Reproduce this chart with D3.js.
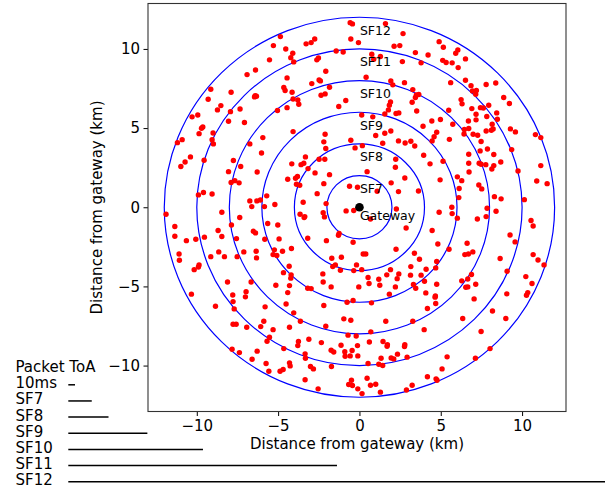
<!DOCTYPE html>
<html>
<head>
<meta charset="utf-8">
<script src="https://cdn.jsdelivr.net/npm/d3@7"></script>
<style>
  html, body { margin: 0; padding: 0; background: #fff; }
  svg { display: block; font-family: "DejaVu Sans", sans-serif; }
</style>
</head>
<body>
<svg id="chart" width="615" height="489"></svg>
<script>
// ---------------- data ----------------
const ringRadii = [2, 4, 6, 8, 10, 12];                 // km
const ringLabels = ["SF7", "SF8", "SF9", "SF10", "SF11", "SF12"];
const xTicks = [-10, -5, 0, 5, 10];
const yTicks = [-10, -5, 0, 5, 10];
const gateway = [0, 0];
const legendLabels = ["10ms", "SF7", "SF8", "SF9", "SF10", "SF11", "SF12"];
const legendToA = [10, 35, 60, 118, 201, 401, 801];     // ms

// end-device positions (km)
const nodes = [
[-0.57,11.66],[-0.43,11.58],[-0.53,10.63],[-0.06,10.4],[-4.86,10.78],[-3.28,10.32],[-2.97,10.4],[-2.75,10.63],[-5.29,10.21],[-4.53,10.0],[-4.1,9.73],[-4.22,9.45],[-4.04,9.18],[-1.43,9.87],[-1.0,9.81],[-2.52,9.43],[-2.62,9.31],[-5.53,9.31],[-6.39,8.67],[-6.91,8.38],[-2.07,8.59],[-2.4,7.98],[-2.48,8.04],[-2.93,7.81],[-4.45,8.17],[-1.84,7.58],[-4.65,7.56],[-4.57,7.37],[-4.14,7.26],[-9.14,7.45],[-7.89,7.26],[-6.41,7.05],[-6.45,6.97],[-6.33,7.01],[-4.08,6.84],[-3.79,6.78],[-3.73,6.51],[-2.11,7.16],[-2.36,7.07],[-9.3,6.82],[-8.52,6.42],[-8.73,6.15],[-7.34,6.21],[-7.93,6.04],[-5.04,6.11],[-4.45,6.29],[-0.84,6.74],[-1.27,6.36],[-9.94,5.83],[-10.29,5.71],[-8.05,5.43],[-7.07,5.35],[-9.63,5.07],[-9.71,4.99],[-9.86,4.65],[-9.0,4.69],[-4.08,4.78],[-9.06,4.27],[-8.98,4.0],[-11.19,4.08],[-10.9,4.27],[-5.94,4.4],[-6.74,4.0],[-2.11,4.61],[-2.19,4.13],[-2.07,3.71],[-0.53,4.23],[-6.02,3.43],[-10.39,3.18],[-10.72,2.86],[-10.98,2.57],[-9.55,2.97],[-7.75,2.95],[-7.3,2.57],[-8.05,2.25],[-6.29,2.23],[-4.16,2.74],[-3.59,2.69],[-3.42,2.78],[-3.32,3.18],[-2.48,3.03],[-2.13,3.03],[-3.16,2.44],[-2.73,2.17],[-1.84,2.06],[-4.41,1.77],[-3.93,1.83],[-3.81,1.94],[-3.87,1.45],[-3.67,1.39],[-7.66,1.68],[-7.89,1.56],[-7.4,1.54],[-2.19,1.49],[-2.6,0.86],[-0.61,1.33],[-0.12,1.26],[-9.59,0.93],[-9.9,0.78],[-9.06,0.84],[-5.7,0.72],[-6.09,0.46],[-6.31,0.4],[-6.74,0.4],[-6.62,0.04],[-5.84,0.04],[-5.2,0.17],[-3.46,0.32],[-2.05,0.23],
[1.6,11.6],[2.68,10.97],[2.13,10.17],[2.48,10.21],[4.9,10.46],[5.16,10.11],[3.44,9.77],[4.22,9.62],[6.05,9.94],[5.92,9.73],[6.52,9.37],[5.12,9.28],[5.33,9.14],[5.7,9.12],[6.07,8.82],[3.79,9.12],[2.64,9.2],[0.76,9.66],[1.29,9.52],[0.88,9.35],[0.41,8.21],[1.93,7.98],[2.05,7.73],[2.77,7.87],[3.28,7.43],[3.65,7.12],[3.5,7.09],[3.44,6.93],[3.24,6.63],[1.91,6.65],[1.84,6.44],[1.78,6.15],[1.56,5.89],[2.25,5.92],[2.42,5.96],[3.52,6.08],[0.82,5.71],[0.14,5.83],[5.61,7.87],[6.52,8.02],[6.86,7.68],[7.19,7.37],[6.95,7.35],[7.15,7.14],[7.79,7.75],[8.38,7.85],[8.87,6.93],[9.22,6.55],[6.25,6.8],[6.31,6.53],[5.49,6.13],[6.91,6.23],[7.17,5.87],[7.44,6.29],[7.62,6.27],[7.95,6.44],[7.83,5.73],[8.44,5.96],[8.48,5.56],[6.7,5.45],[7.17,5.52],[8.16,5.24],[5.74,5.24],[6.45,4.91],[6.43,4.63],[6.72,4.97],[6.99,4.61],[7.27,4.55],[7.79,4.82],[8.11,4.86],[8.22,4.95],[9.28,4.95],[9.59,4.76],[10.82,4.59],[11.15,4.4],[4.45,5.45],[4.98,5.54],[3.91,5.12],[4.75,4.74],[4.59,4.46],[4.47,4.19],[5.53,4.29],[1.93,4.82],[1.56,4.67],[1.0,4.53],[2.4,4.19],[2.81,4.06],[3.16,4.17],[3.4,3.87],[1.43,4.04],[0.18,3.89],[-0.27,3.75],[7.48,4.15],[7.87,3.68],[8.26,3.33],[7.42,3.56],[9.36,3.64],[9.75,2.29],[11.15,2.63],[10.9,1.66],[11.54,1.49],[10.14,0.48],[8.3,0.67],[8.71,0.53],[7.85,-0.06],[6.72,3.35],[6.72,2.78],[6.74,2.23],[7.36,2.78],[7.48,2.72],[7.77,2.69],[8.14,2.42],[8.26,2.63],[8.69,2.86],[7.34,1.41],[7.52,1.16],[6.02,1.92],[6.29,1.68],[6.13,1.18],[6.11,0.61],[4.96,1.73],[5.14,2.91],[4.34,2.74],[3.95,3.28],[2.23,3.03],[2.21,2.53],[0.47,2.25],[2.79,1.85],[1.95,1.54],[2.4,0.99],[3.63,1.03],[1.09,1.01],[5.68,0.0],
[-11.89,-0.44],[-11.35,-1.22],[-11.35,-1.83],[-10.64,-2.11],[-10.06,-2.02],[-9.53,-1.89],[-11.09,-2.95],[-11.07,-3.35],[-10.16,-3.94],[-9.9,-3.77],[-9.86,-3.64],[-10.33,-5.49],[-8.85,-6.25],[-8.46,-0.32],[-8.69,-1.47],[-8.46,-1.85],[-9.14,-3.12],[-8.65,-2.82],[-8.3,-3.12],[-7.36,-0.65],[-7.87,-1.12],[-7.56,-1.98],[-7.11,-2.82],[-7.52,-3.12],[-8.11,-4.72],[-7.79,-5.54],[-7.77,-5.96],[-7.7,-6.42],[-6.97,-5.33],[-7.01,-5.66],[-6.66,-4.72],[-7.77,-7.39],[-7.58,-7.39],[-6.93,-7.58],[-7.83,-8.97],[-7.38,-9.18],[-6.52,-1.52],[-6.39,-1.62],[-6.35,-2.78],[-6.33,-3.2],[-5.64,-1.03],[-5.02,-1.12],[-5.82,-2.02],[-4.94,-2.0],[-5.23,-2.69],[-5.31,-2.99],[-5.08,-3.05],[-4.73,-2.78],[-4.18,-2.61],[-4.32,-3.73],[-4.67,-4.13],[-4.2,-4.27],[-4.22,-4.48],[-5.14,-4.93],[-4.3,-4.95],[-4.41,-5.39],[-4.51,-6.11],[-4.04,-6.67],[-3.63,-7.2],[-5.8,-6.29],[-5.88,-7.2],[-6.07,-7.54],[-5.31,-7.73],[-5.53,-8.21],[-5.68,-8.46],[-4.65,-8.93],[-4.3,-7.58],[-6.29,-9.09],[-6.6,-9.6],[-5.74,-9.87],[-5.57,-10.36],[-4.88,-10.36],[-4.69,-10.25],[-4.3,-9.83],[-4.26,-10.02],[-3.75,-8.48],[-3.79,-8.74],[-3.11,-8.34],[-3.34,-9.26],[-3.32,-9.54],[-3.01,-10.06],[-2.83,-10.21],[-3.34,-10.9],[-2.54,-11.47],[-1.72,-10.06],[-1.58,-9.14],[-2.34,-8.55],[-2.19,-6.21],[-2.07,-7.52],[-2.25,-4.21],[-2.23,-4.72],[-3.18,-5.12],[-2.97,-5.14],[-1.74,-5.03],[-1.7,-3.22],[-1.64,-3.75],[-1.48,-3.64],[-1.11,-3.16],[-1.17,-3.98],[-0.35,-4.0],[-0.18,-3.64],[-0.04,-5.03],[-0.76,-6.0],[-0.39,-5.89],[-0.96,-7.05],[-0.53,-7.14],[-0.7,-8.08],[-0.2,-8.13],[-0.12,-8.74],[-1.13,-8.72],[-0.9,-9.12],[-0.45,-9.05],[-0.88,-9.41],[-0.57,-9.39],[-0.1,-9.39],[-1.74,-9.03],[-0.66,-11.2],[-0.49,-10.93],[-0.43,-11.26],[-0.1,-11.47],[-3.65,-0.44],[-3.36,-0.59],[-3.4,-0.65],[-3.18,-1.96],[-2.03,-2.11],[-2.23,-0.34],[-2.15,-0.61],[-1.25,-1.66],[-1.29,-1.77],[-0.39,-2.21],[-0.82,-0.23],[-0.35,-0.21],
[2.27,-0.11],[0.68,-0.74],[2.87,-1.31],[4.9,-0.32],[5.7,-0.4],[6.02,-0.69],[7.25,-0.74],[7.79,-0.59],[8.4,-0.25],[10.55,-0.84],[10.68,-1.18],[9.26,-1.75],[9.57,-2.19],[4.47,-1.47],[4.82,-2.32],[5.51,-2.65],[2.25,-2.65],[0.23,-2.95],[0.39,-2.95],[3.38,-2.91],[3.69,-3.28],[3.16,-3.75],[0.14,-3.94],[1.91,-3.94],[2.42,-4.21],[1.68,-4.27],[0.53,-4.44],[0.59,-4.82],[1.19,-4.55],[1.25,-4.93],[2.21,-5.03],[2.32,-4.51],[3.14,-4.29],[3.79,-4.29],[4.1,-3.92],[4.0,-4.67],[4.69,-3.83],[4.75,-3.43],[4.75,-4.86],[3.32,-4.88],[3.46,-5.12],[1.84,-5.49],[4.08,-5.41],[4.67,-5.6],[4.65,-5.68],[4.69,-6.08],[4.18,-6.4],[0.74,-6.04],[1.62,-7.2],[3.28,-7.2],[3.98,-7.73],[0.7,-7.87],[0.61,-8.51],[1.45,-8.48],[1.72,-8.69],[1.7,-8.78],[2.79,-8.69],[2.77,-8.8],[2.34,-9.28],[2.93,-9.47],[0.53,-9.87],[1.33,-9.54],[1.19,-9.92],[1.43,-10.0],[1.95,-9.52],[2.11,-9.58],[0.47,-10.8],[0.68,-11.24],[1.0,-11.18],[1.29,-11.68],[0.16,-11.77],[2.89,-11.54],[3.24,-11.24],[4.18,-10.71],[4.71,-10.84],[4.77,-10.93],[5.08,-10.21],[5.39,-9.45],[7.13,-9.54],[8.03,-8.93],[7.48,-7.85],[6.35,-7.03],[9.0,-7.03],[7.05,-5.79],[8.18,-6.55],[6.62,-2.27],[6.48,-2.99],[6.7,-2.95],[6.97,-2.82],[6.89,-4.25],[6.29,-4.65],[6.66,-4.53],[6.54,-5.05],[6.66,-5.03],[7.15,-4.86],[8.65,-3.24],[9.08,-4.04],[9.06,-5.47],[10.23,-4.38],[10.61,-4.82],[10.35,-5.39],[10.27,-5.56],[10.68,-2.99],[10.98,-3.33],[11.35,-3.64]
];

// ---------------- layout ----------------
const svg = d3.select("#chart");
const plot = { left: 148, right: 566, top: 3.5, bottom: 411.5 };
const x = d3.scaleLinear().domain([-13.0, 12.7]).range([plot.left, plot.right]);
const y = d3.scaleLinear().domain([-12.87, 12.87]).range([411, 3.5]);
const FS = 15;

svg.append("defs").append("clipPath").attr("id", "clip")
  .append("rect").attr("x", plot.left).attr("y", plot.top)
  .attr("width", plot.right - plot.left).attr("height", plot.bottom - plot.top);

const g = svg.append("g").attr("clip-path", "url(#clip)");

// rings
g.selectAll("ellipse.ring").data(ringRadii).enter().append("ellipse")
  .attr("class", "ring")
  .attr("cx", x(0)).attr("cy", y(0))
  .attr("rx", d => x(d) - x(0)).attr("ry", d => y(0) - y(d))
  .attr("fill", "none").attr("stroke", "#0000ff").attr("stroke-width", 1.2);

// nodes
g.selectAll("circle.node").data(nodes).enter().append("circle")
  .attr("class", "node")
  .attr("cx", d => x(d[0])).attr("cy", d => y(d[1]))
  .attr("r", 2.7).attr("fill", "#ff0000");

// gateway
g.append("circle").attr("cx", x(gateway[0])).attr("cy", y(gateway[1]))
  .attr("r", 4.3).attr("fill", "#000");

// ring labels
g.selectAll("text.ringlab").data(ringRadii).enter().append("text")
  .attr("class", "ringlab")
  .attr("x", x(0) + 0.5).attr("y", d => y(d - 1) + 1.5)
  .attr("font-size", 12.5).attr("fill", "#000")
  .text((d, i) => ringLabels[i]);

g.append("text").attr("x", x(0) + 0.5).attr("y", y(-0.8))
  .attr("font-size", 12.5).attr("fill", "#000").text("Gateway");

// axes
const xAxis = svg.append("g").attr("transform", `translate(0,${plot.bottom})`)
  .call(d3.axisBottom(x).tickValues(xTicks).tickSize(4.5).tickPadding(4.5).tickSizeOuter(0));
const yAxis = svg.append("g").attr("transform", `translate(${plot.left},0)`)
  .call(d3.axisLeft(y).tickValues(yTicks).tickSize(4.5).tickPadding(3.5).tickSizeOuter(0));
[xAxis, yAxis].forEach(a => {
  a.select(".domain").remove();
  a.selectAll("text").attr("font-size", FS).attr("font-family", "DejaVu Sans").attr("fill", "#000");
  a.selectAll("line").attr("stroke", "#000").attr("stroke-width", 1);
});

// frame
svg.append("rect").attr("x", plot.left).attr("y", plot.top)
  .attr("width", plot.right - plot.left).attr("height", plot.bottom - plot.top)
  .attr("fill", "none").attr("stroke", "#333").attr("stroke-width", 1.1);

// axis labels
svg.append("text").attr("x", (plot.left + plot.right) / 2).attr("y", 449.3)
  .attr("text-anchor", "middle").attr("font-size", FS).text("Distance from gateway (km)");
svg.append("text").attr("transform", `translate(101.5,${(plot.top + plot.bottom) / 2}) rotate(-90)`)
  .attr("text-anchor", "middle").attr("font-size", FS).text("Distance from gateway (km)");

// legend: packet time-on-air
const lx = d3.scaleLinear().domain([0, 801]).range([68.3, 605]);
const rowBase = d3.scaleLinear().domain([0, 1]).range([388.3, 404.45]);
svg.append("text").attr("x", 15.5).attr("y", rowBase(-1)).attr("font-size", FS).text("Packet ToA");
legendLabels.forEach((lab, i) => {
  svg.append("text").attr("x", 15.5).attr("y", rowBase(i)).attr("font-size", FS).text(lab);
  svg.append("line").attr("x1", lx(0)).attr("x2", lx(legendToA[i]))
    .attr("y1", rowBase(i) - 3.5).attr("y2", rowBase(i) - 3.5)
    .attr("stroke", "#000").attr("stroke-width", 1.5);
});
</script>
</body>
</html>
